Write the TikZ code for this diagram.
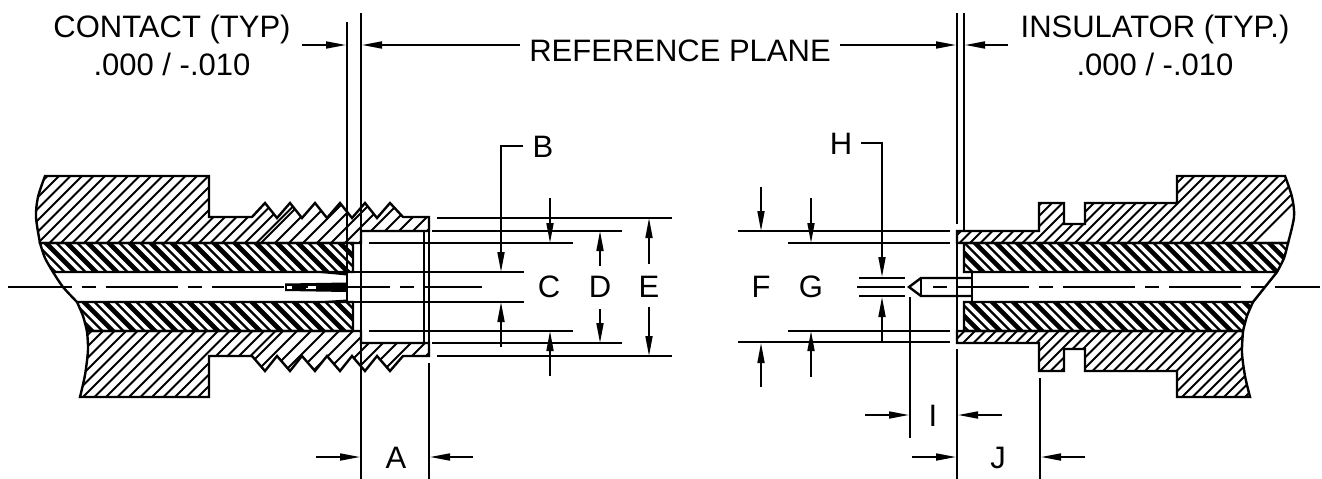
\documentclass[tikz,border=0pt]{standalone}
\usepackage{fontspec}
\setmainfont{Liberation Sans}
\usetikzlibrary{arrows.meta}

\tikzset{
  part/.style={line width=2.4pt, line join=miter},
  thinline/.style={line width=1.7pt},
  hatchline/.style={line width=1.8pt},
  rubberthick/.style={line width=4.6pt},
  rubberthin/.style={line width=2.4pt},
  dimarrow/.style={line width=1.7pt, -{Triangle[length=20pt,width=7pt]}},
  centerline/.style={line width=2.2pt, dash pattern=on 72pt off 10pt on 14pt off 10pt},
  dimlabel/.style={inner sep=0pt, anchor=base, font=\fontsize{31}{36}\selectfont}
}

% metal and rubber sections
\def\metalUL{plot[smooth] coordinates {(45,176) (38,197) (36,217) (40,243)} -- (361,243) -- (361,231) -- (429,231) -- (429,217) -- (403,217) -- (390,203) -- (377,218) -- (365,203) -- (352,218) -- (340,203) -- (327,218) -- (315,203) -- (302,218) -- (290,203) -- (277,218) -- (265,203) -- (252,217) -- (209,217) -- (209,176) -- cycle}
\def\metalLL{plot[smooth] coordinates {(87,331) (88,350) (85,375) (80,397)} -- (209,397) -- (209,356) -- (252,356) -- (265,371) -- (277,356) -- (290,371) -- (302,356) -- (315,371) -- (327,356) -- (340,371) -- (352,356) -- (365,371) -- (377,356) -- (390,371) -- (403,356) -- (429,356) -- (429,343) -- (361,343) -- (361,331) -- cycle}
\def\rubberUL{plot[smooth] coordinates {(40,243) (45,258) (53,272)} -- (353,272) -- (353,243) -- cycle}
\def\rubberLL{plot[smooth] coordinates {(77,302) (83,316) (87,331)} -- (353,331) -- (353,302) -- cycle}
\def\metalUR{plot[smooth] coordinates {(1285,176) (1292,197) (1294,217) (1288,243)} -- (957,243) -- (957,231) -- (1039,231) -- (1039,203) -- (1064,203) -- (1064,224) -- (1085,224) -- (1085,203) -- (1177,203) -- (1177,176) -- cycle}
\def\metalLR{plot[smooth] coordinates {(1243,331) (1242,353) (1245,376) (1250,397)} -- (1177,397) -- (1177,371) -- (1085,371) -- (1085,349) -- (1064,349) -- (1064,371) -- (1039,371) -- (1039,343) -- (957,343) -- (957,331) -- cycle}
\def\rubberUR{plot[smooth] coordinates {(1288,243) (1284,258) (1277,272)} -- (964,272) -- (964,243) -- cycle}
\def\rubberLR{plot[smooth] coordinates {(1253,302) (1247,316) (1243,331)} -- (964,331) -- (964,302) -- cycle}

\begin{document}
\begin{tikzpicture}[x=1pt,y=-1pt]

    \useasboundingbox (0,0) rectangle (1322,479);

    % left connector
    \begin{scope}
        \clip \metalUL;
        \foreach \c in {212,223.5,...,500}
            \draw [hatchline] (\c-400,400) -- (\c-170,170);
        \foreach \c in {504,518,...,680}
            \draw [hatchline] (\c-400,400) -- (\c-170,170);
    \end{scope}
    \begin{scope}
        \clip \metalLL;
        \foreach \c in {411,422.5,...,610}
            \draw [hatchline] (\c-500,500) -- (\c-170,170);
        \foreach \c in {614,628,...,800}
            \draw [hatchline] (\c-500,500) -- (\c-170,170);
    \end{scope}
    \foreach \rubberpath in {\rubberUL,\rubberLL} {
        \begin{scope}
            \clip \rubberpath;
            \foreach \c in {-300,-279,...,300}
                \draw [rubberthick] (\c,170) -- (\c+230,400);
            \foreach \c in {-289.5,-268.5,...,300}
                \draw [rubberthin] (\c,170) -- (\c+230,400);
        \end{scope}
        \draw [part] \rubberpath;
    }
    \draw [part] \metalUL;
    \draw [part] \metalLL;
    \draw [part] plot[smooth] coordinates {(53,272) (63,287) (77,302)};
    \draw [part] (361,231) rectangle (424,343);
    \draw [part] (429,231) -- (429,343);

    % socket at the left
    \fill (285,283.5) -- (347,282.5) -- (347,292) -- (285,291) -- cycle;
    \fill [white] (287,285.5) rectangle (292,288.5);
    \fill [white] (306,285.5) rectangle (316,288.5);
    \fill (310,272) -- (347,272) -- (347,275.5) -- cycle;
    \fill (310,302) -- (347,302) -- (347,299.5) -- cycle;

    % right connector
    \begin{scope}
        \clip \metalUR;
        \foreach \c in {1150,1160.5,...,1500}
            \draw [hatchline] (\c-400,400) -- (\c-170,170);
    \end{scope}
    \begin{scope}
        \clip \metalLR;
        \foreach \c in {1285,1295.5,...,1660}
            \draw [hatchline] (\c-500,500) -- (\c-170,170);
    \end{scope}
    \foreach \rubberpath in {\rubberUR,\rubberLR} {
        \begin{scope}
            \clip \rubberpath;
            \foreach \c in {650,671,...,1320}
                \draw [rubberthick] (\c,170) -- (\c+230,400);
            \foreach \c in {660.5,681.5,...,1320}
                \draw [rubberthin] (\c,170) -- (\c+230,400);
        \end{scope}
        \draw [part] \rubberpath;
    }
    \draw [part] \metalUR;
    \draw [part] \metalLR;
    \draw [part] plot[smooth] coordinates {(1277,272) (1265,287) (1253,302)};
    \draw [part] (957,243) -- (957,331);
    \draw [part] (972,272) -- (972,302);

    % pin at the right
    \draw [part] (972,278) -- (921,278) -- (909,287) -- (921,296) -- (972,296);
    \draw [part] (921,278) -- (921,296);

    % center lines
    \draw [centerline, dash phase=8pt] (8,287) -- (482,287);
    \draw [centerline, dash phase=72pt] (923,287) -- (1320,287);

    % reference plane and extension lines
    \draw [thinline] (347,22) -- (347,302);
    \draw [thinline] (361,13) -- (361,231);
    \draw [part] (361,343) -- (361,479);
    \draw [part] (429,363) -- (429,479);
    \draw [part] (957,13) -- (957,224);
    \draw [thinline] (964,13) -- (964,231);
    \draw [part] (957,349) -- (957,479);
    \draw [part] (1040,378) -- (1040,479);
    \draw [thinline] (910,297) -- (910,438);

    \draw [thinline] (437,218) -- (672,218);
    \draw [thinline] (432,231) -- (622,231);
    \draw [thinline] (369,243) -- (573,243);
    \draw [thinline] (353,272) -- (524,272);
    \draw [thinline] (353,302) -- (524,302);
    \draw [thinline] (369,331) -- (573,331);
    \draw [thinline] (432,343) -- (622,343);
    \draw [thinline] (437,356) -- (672,356);

    \draw [thinline] (738,231) -- (950,231);
    \draw [thinline] (788,243) -- (950,243);
    \draw [thinline] (859,278) -- (905,278);
    \draw [thinline] (859,296) -- (905,296);
    \draw [part] (857,287) -- (905,287);
    \draw [thinline] (788,331) -- (950,331);
    \draw [thinline] (738,342) -- (950,342);

    % labels
    \node [dimlabel] (contact) at (172,37) {CONTACT (TYP)};
    \node [dimlabel] (contacttol) at (172,75) {.000 / -.010};
    \node [dimlabel] (refplane) at (680,61) {REFERENCE PLANE};
    \node [dimlabel] (insulator) at (1155,37) {INSULATOR (TYP.)};
    \node [dimlabel] (insulatortol) at (1155,75) {.000 / -.010};
    \node [dimlabel] (labelB) at (543,157) {B};
    \node [dimlabel] (labelC) at (549,297) {C};
    \node [dimlabel] (labelD) at (600,297) {D};
    \node [dimlabel] (labelE) at (649,297) {E};
    \node [dimlabel] (labelF) at (761,297) {F};
    \node [dimlabel] (labelG) at (811,297) {G};
    \node [dimlabel] (labelH) at (841,154) {H};
    \node [dimlabel] (labelI) at (933,426) {I};
    \node [dimlabel] (labelJ) at (998,468) {J};
    \node [dimlabel] (labelA) at (396,468) {A};

    % dimension arrows
    \draw [dimarrow] (302,45) -- (346,45);
    \draw [dimarrow] (refplane.west |- 0,45) ++(-9,0) -- (362,45);
    \draw [dimarrow] (refplane.east |- 0,45) ++(9,0) -- (956,45);
    \draw [dimarrow] (1008,45) -- (965,45);

    \draw [dimarrow] ([xshift=-9pt]labelB.west) -| (501,272);
    \draw [dimarrow] (501,347) -- (501,302);
    \draw [dimarrow] (550,198) -- (550,243);
    \draw [dimarrow] (550,376) -- (550,331);
    \draw [dimarrow] (600,266) -- (600,231);
    \draw [dimarrow] (600,309) -- (600,343);
    \draw [dimarrow] (649,264) -- (649,218);
    \draw [dimarrow] (649,307) -- (649,356);

    \draw [dimarrow] (761,187) -- (761,231);
    \draw [dimarrow] (761,387) -- (761,343);
    \draw [dimarrow] (811,198) -- (811,243);
    \draw [dimarrow] (811,377) -- (811,331);
    \draw [dimarrow] ([xshift=9pt]labelH.east) -| (882,277);
    \draw [dimarrow] (882,341) -- (882,297);

    \draw [dimarrow] (865,415) -- (909,415);
    \draw [dimarrow] (1002,415) -- (958,415);
    \draw [dimarrow] (912,457) -- (956,457);
    \draw [dimarrow] (1085,457) -- (1041,457);
    \draw [dimarrow] (316,457) -- (360,457);
    \draw [dimarrow] (473,457) -- (430,457);

\end{tikzpicture}
\end{document}
